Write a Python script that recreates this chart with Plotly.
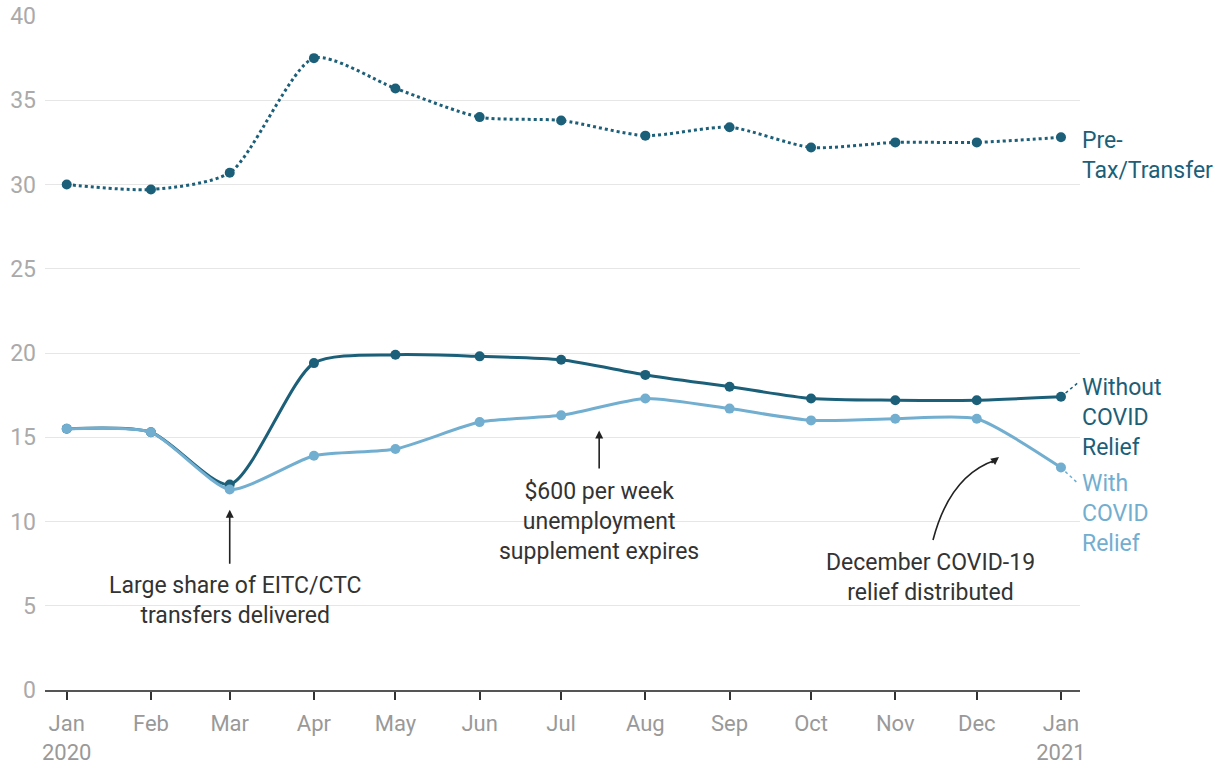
import plotly.graph_objects as go

months = ["2020-01-01", "2020-02-01", "2020-03-01", "2020-04-01", "2020-05-01", "2020-06-01",
          "2020-07-01", "2020-08-01", "2020-09-01", "2020-10-01", "2020-11-01", "2020-12-01",
          "2021-01-01"]
tick_labels = ["Jan<br>2020", "Feb", "Mar", "Apr", "May", "Jun", "Jul", "Aug", "Sep", "Oct",
               "Nov", "Dec", "Jan<br>2021"]
pre_tax = [30.0, 29.7, 30.7, 37.5, 35.7, 34.0, 33.8, 32.9, 33.4, 32.2, 32.5, 32.5, 32.8]
without_relief = [15.5, 15.3, 12.2, 19.4, 19.9, 19.8, 19.6, 18.7, 18.0, 17.3, 17.2, 17.2, 17.4]
with_relief = [15.5, 15.3, 11.9, 13.9, 14.3, 15.9, 16.3, 17.3, 16.7, 16.0, 16.1, 16.1, 13.2]

DARK = "#1c5f79"
LIGHT = "#72aed0"
FONT = "Roboto"
TXT = "#333333"

fig = go.Figure()
fig.add_trace(go.Scatter(x=months, y=pre_tax, mode="lines+markers",
                         line=dict(color=DARK, width=3, dash="dot", shape="spline", smoothing=0.7),
                         marker=dict(size=10, color=DARK), name="Pre-Tax/Transfer"))
fig.add_trace(go.Scatter(x=months, y=without_relief, mode="lines+markers",
                         line=dict(color=DARK, width=3, shape="spline", smoothing=0.7),
                         marker=dict(size=10, color=DARK), name="Without COVID Relief"))
fig.add_trace(go.Scatter(x=months, y=with_relief, mode="lines+markers",
                         line=dict(color=LIGHT, width=3, shape="spline", smoothing=0.6),
                         marker=dict(size=10, color=LIGHT), name="With COVID Relief"))

annotations = [
    dict(x=1, xref="paper", y=31.75, yref="y", xanchor="left", yanchor="middle", align="left",
         text="Pre-<br>Tax/Transfer", showarrow=False, font=dict(size=23, color=DARK, family=FONT)),
    dict(x=1, xref="paper", y=16.2, yref="y", xanchor="left", yanchor="middle", align="left",
         text="Without<br>COVID<br>Relief", showarrow=False, font=dict(size=23, color=DARK, family=FONT)),
    dict(x=1, xref="paper", y=10.5, yref="y", xanchor="left", yanchor="middle", align="left",
         text="With<br>COVID<br>Relief", showarrow=False, font=dict(size=23, color=LIGHT, family=FONT)),
    # text annotations
    dict(x="2020-03-03", y=5.3, text="Large share of EITC/CTC<br>transfers delivered", showarrow=False,
         font=dict(size=23, color=TXT, family=FONT)),
    dict(x="2020-07-15", y=10.0, text="$600 per week<br>unemployment<br>supplement expires", showarrow=False,
         font=dict(size=23, color=TXT, family=FONT)),
    dict(x="2020-11-14", y=6.7, text="December COVID-19<br>relief distributed", showarrow=False,
         font=dict(size=23, color=TXT, family=FONT)),
    # arrows
    dict(x="2020-03-01", y=10.7, ax="2020-03-01", ay=7.4, axref="x", ayref="y", text="",
         showarrow=True, arrowhead=2, arrowsize=1.0, arrowwidth=1.6, arrowcolor="#222222"),
    dict(x="2020-07-15", y=15.4, ax="2020-07-15", ay=13.05, axref="x", ayref="y", text="",
         showarrow=True, arrowhead=2, arrowsize=1.0, arrowwidth=1.6, arrowcolor="#222222"),
    dict(x=(999 - 45) / 1035, y=(690 - 457) / 674, xref="paper", yref="paper",
         ax=-9, ay=7, text="", showarrow=True, arrowhead=2, arrowsize=1.0, arrowwidth=1.6,
         arrowcolor="#222222"),
]

def px(xp):
    return (xp - 45) / 1035

def py(yp):
    return (690 - yp) / 674

shapes = [
    dict(type="path", xref="paper", yref="paper",
         path=f"M {px(933)} {py(540)} Q {px(950)} {py(475)} {px(996)} {py(460)}",
         line=dict(color="#222222", width=1.6)),
    dict(type="line", xref="x", yref="y", x0="2021-01-01", y0=without_relief[-1],
         x1="2021-01-07", y1=18.2, line=dict(color=DARK, width=1.5, dash="dot")),
    dict(type="line", xref="x", yref="y", x0="2021-01-01", y0=with_relief[-1],
         x1="2021-01-07", y1=12.3, line=dict(color=LIGHT, width=1.5, dash="dot")),
]

fig.update_layout(
    width=1225, height=769,
    margin=dict(l=45, r=145, t=16, b=79, autoexpand=False),
    plot_bgcolor="white", paper_bgcolor="white",
    showlegend=False,
    font=dict(family=FONT, size=20, color="#999999"),
    annotations=annotations,
    shapes=shapes,
    xaxis=dict(type="date", range=["2019-12-24", "2021-01-08"], automargin=False,
               tickvals=months, ticktext=tick_labels,
               showgrid=False, showline=True, linecolor="#555555", linewidth=1.5,
               ticks="outside", ticklen=8, tickcolor="#333333", tickwidth=1.5,
               ticklabelstandoff=5,
               tickfont=dict(size=22, color="#999999", family=FONT), zeroline=False),
    yaxis=dict(range=[0, 40], tickvals=[0, 5, 10, 15, 20, 25, 30, 35, 40], automargin=False,
               showgrid=True, gridcolor="#e6e6e6", gridwidth=1.2, zeroline=False,
               showline=False, ticks="", ticklabelstandoff=8,
               tickfont=dict(size=23, color="#aaaaaa", family=FONT)),
)

fig.write_html("out.html")
